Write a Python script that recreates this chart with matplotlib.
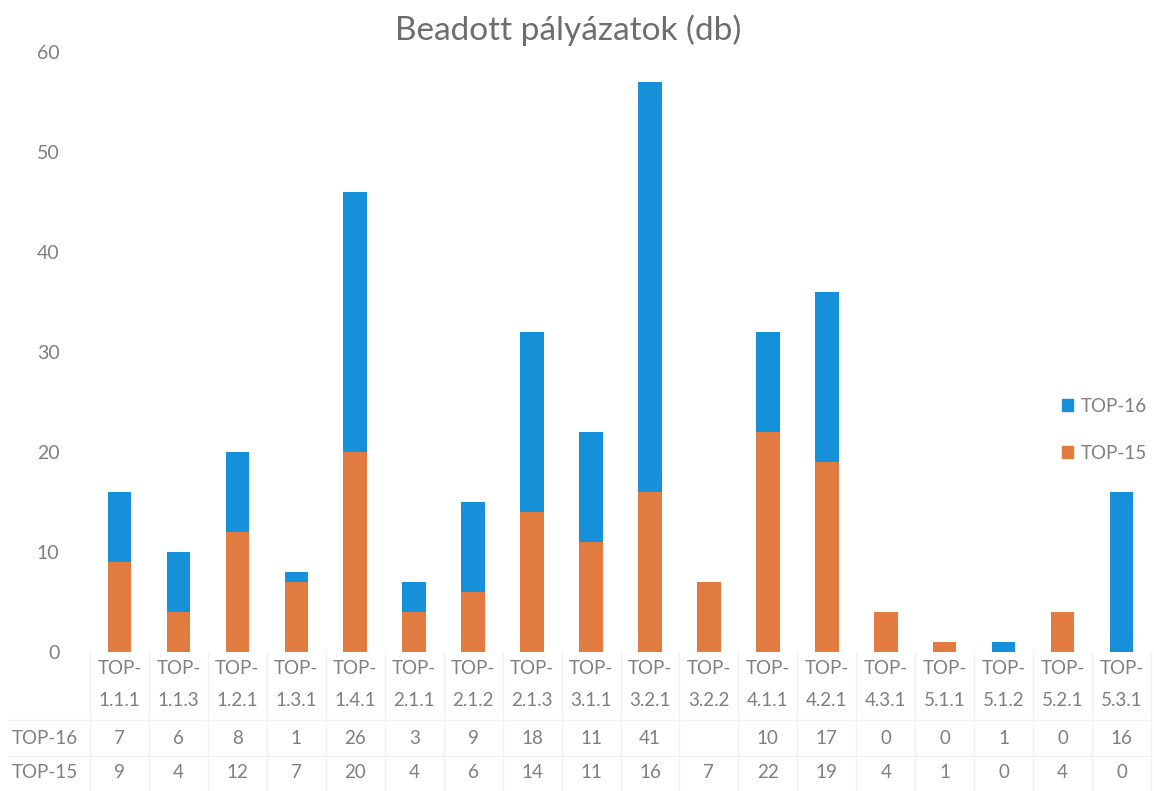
import numpy as np
import matplotlib
matplotlib.use("Agg")
import matplotlib.pyplot as plt
from matplotlib.transforms import blended_transform_factory
from matplotlib.patches import Patch

categories = ["1.1.1", "1.1.3", "1.2.1", "1.3.1", "1.4.1", "2.1.1", "2.1.2",
              "2.1.3", "3.1.1", "3.2.1", "3.2.2", "4.1.1", "4.2.1", "4.3.1",
              "5.1.1", "5.1.2", "5.2.1", "5.3.1"]
top16 = [7, 6, 8, 1, 26, 3, 9, 18, 11, 41, None, 10, 17, 0, 0, 1, 0, 16]
top15 = [9, 4, 12, 7, 20, 4, 6, 14, 11, 16, 7, 22, 19, 4, 1, 0, 4, 0]

BLUE = "#1590d9"
ORANGE = "#e27b40"
GREY = "#7f7f7f"

plt.rcParams["font.family"] = ["Lato", "DejaVu Sans"]

W, H = 1154, 791
fig = plt.figure(figsize=(W / 100, H / 100), dpi=100)
ax = fig.add_axes([90 / W, 1 - 652 / H, (1151 - 90) / W, 600 / H])

x = np.arange(len(categories))
b16 = np.array([np.nan if v is None else v for v in top16], dtype=float)
b15 = np.array(top15, dtype=float)
ax.bar(x, b15, width=0.4, color=ORANGE, zorder=3)
ax.bar(x, np.nan_to_num(b16), bottom=b15, width=0.4, color=BLUE, zorder=3)

ax.set_xlim(-0.5, len(categories) - 0.5)
ax.set_ylim(0, 60)
ax.set_yticks(range(0, 61, 10))
ax.tick_params(axis="y", length=0, labelsize=14, labelcolor=GREY, pad=22)
ax.set_xticks([])
for s in ax.spines.values():
    s.set_visible(False)


def fy(py):
    return 1 - py / H


fig.text(568 / W, fy(30), "Beadott pályázatok (db)", ha="center", va="center",
         fontsize=24, color="#6d6d6d")

# data table under the plot
tr = blended_transform_factory(ax.transData, fig.transFigure)
for i, c in enumerate(categories):
    ax.text(i, fy(668), "TOP-", transform=tr, ha="center", va="center",
            fontsize=13.5, color=GREY)
    ax.text(i, fy(700), c, transform=tr, ha="center", va="center",
            fontsize=13.5, color=GREY)
    v16 = "" if top16[i] is None else str(top16[i])
    ax.text(i, fy(738), v16, transform=tr, ha="center", va="center",
            fontsize=13.5, color=GREY)
    ax.text(i, fy(773), str(top15[i]), transform=tr, ha="center", va="center",
            fontsize=13.5, color=GREY)

fig.text(12 / W, fy(738), "TOP-16", ha="left", va="center", fontsize=13.5, color=GREY)
fig.text(12 / W, fy(773), "TOP-15", ha="left", va="center", fontsize=13.5, color=GREY)

# faint table borders
line_kw = dict(color="#f2f2f2", lw=1, zorder=0)
for i in range(len(categories) + 1):
    ax.plot([i - 0.5, i - 0.5], [fy(652), fy(791)], transform=tr,
            clip_on=False, **line_kw)
for py in (720, 756):
    fig.add_artist(plt.Line2D([8 / W, 1151 / W], [fy(py), fy(py)], **line_kw))

handles = [Patch(color=BLUE, label="TOP-16"), Patch(color=ORANGE, label="TOP-15")]
ax.legend(handles=handles, loc="center left", bbox_to_anchor=(0.9, 0.37),
          frameon=False, fontsize=13.5, labelcolor=GREY, handlelength=0.6,
          handleheight=0.6, handletextpad=0.4, labelspacing=1.6)

fig.savefig("out.png", dpi=100)
